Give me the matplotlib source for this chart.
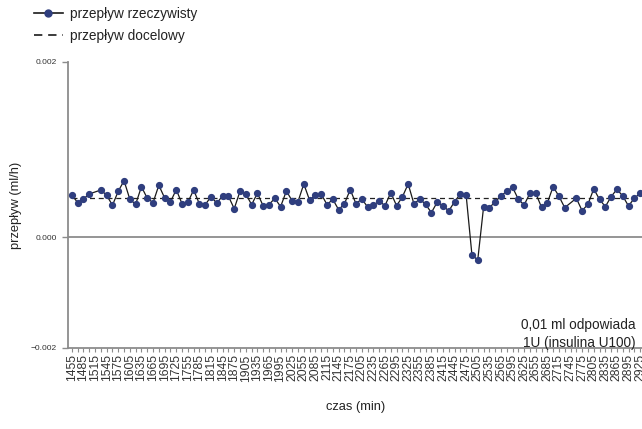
import numpy as np
import matplotlib
matplotlib.use("Agg")
import matplotlib.pyplot as plt
from matplotlib.lines import Line2D
from matplotlib.ticker import FixedLocator

plt.rcParams['font.family'] = ['Liberation Sans', 'DejaVu Sans']

# time axis (min), one reading every 15 min
czas = np.arange(1455, 2926, 15)

# measured flow (ml/h); NaN = no reading
przeplyw = [
    0.000484, 0.000397, 0.000439, 0.000496, np.nan, 0.000541, 0.000481, 0.000367,
    0.000527, 0.000647, 0.000435, 0.000378, 0.000579, 0.000447, 0.000397, 0.000595,
    0.000450, 0.000405, 0.000545, 0.000385, 0.000401, 0.000541, 0.000382, 0.000374,
    0.000465, 0.000390, 0.000476, 0.000470, 0.000328, 0.000527, 0.000496, 0.000374,
    0.000504, 0.000359, 0.000374, 0.000447, 0.000351, 0.000530, 0.000416, 0.000408,
    0.000610, 0.000424, 0.000481, 0.000496, 0.000374, 0.000435, 0.000317, 0.000382,
    0.000545, 0.000385, 0.000439, 0.000348, 0.000367, 0.000416, 0.000362, 0.000511,
    0.000362, 0.000462, 0.000610, 0.000382, 0.000439, 0.000378, 0.000283, 0.000401,
    0.000362, 0.000302, 0.000408, 0.000496, 0.000481, -0.000317, -0.000407, 0.000344,
    0.000340, 0.000405, 0.000473, 0.000527, 0.000572, 0.000435, 0.000370, 0.000504,
    0.000504, 0.000344, 0.000393, 0.000579, 0.000470, 0.000340, np.nan, 0.000447,
    0.000305, 0.000378, 0.000553, 0.000435, 0.000351, 0.000465, 0.000549, 0.000473,
    0.000359, 0.000447, 0.000504,
]

# target flow (ml/h)
przeplyw_docelowy = 0.00045

y_ticks = [-0.002, 0.0, 0.002]
y_tick_labels = ["\u22120.002", "0.000", "0.002"]
x_tick_labels = [str(v) for v in range(1455, 2926, 30)]

# negative half of the value axis is drawn compressed
K_NEG = 0.63


def fwd(y):
    y = np.asarray(y, dtype=float)
    return np.where(y < 0, y * K_NEG, y)


def inv(y):
    y = np.asarray(y, dtype=float)
    return np.where(y < 0, y / K_NEG, y)


W, H = 642, 429
fig = plt.figure(figsize=(W / 100, H / 100), dpi=100)
ax_l, ax_r, ax_t, ax_b = 68, 643, 62, 348
ax = fig.add_axes([ax_l / W, 1 - ax_b / H, (ax_r - ax_l) / W, (ax_b - ax_t) / H])

ax.set_yscale('function', functions=(fwd, inv))
ax.set_ylim(-0.002, 0.002)
ax.set_xlim(1445, 2932.5)

navy = '#2f3e7e'
grey = '#8c8c8c'
txt = '#222222'

y = np.array(przeplyw, dtype=float)
ok = ~np.isnan(y)
ax.plot(czas[ok], y[ok], color='#1a1a1a', lw=0.9, marker='o',
        markersize=4.2, markerfacecolor=navy, markeredgecolor=navy, zorder=3)
ax.plot([czas[0], czas[-1]], [przeplyw_docelowy] * 2, color='#222222',
        lw=0.9, linestyle=(0, (4, 3)), zorder=2)
ax.axhline(0, color=grey, lw=1.3, zorder=1)

for side in ('top', 'right'):
    ax.spines[side].set_visible(False)
for side in ('left', 'bottom'):
    ax.spines[side].set_color(grey)
    ax.spines[side].set_linewidth(1.3)

ax.yaxis.set_major_locator(FixedLocator(y_ticks))
ax.set_yticklabels(y_tick_labels)
ax.yaxis.set_minor_locator(FixedLocator([]))
ax.tick_params(axis='y', length=4, width=1, color=grey, labelsize=6, pad=4,
               labelcolor='#333333')

ax.xaxis.set_major_locator(FixedLocator(list(range(1455, 2926, 30))))
ax.set_xticklabels(x_tick_labels)
ax.xaxis.set_minor_locator(FixedLocator(list(range(1470, 2926, 30))))
ax.tick_params(axis='x', which='major', length=3, width=0.8, color=grey,
               labelsize=8.7, labelrotation=90, pad=1.5, labelcolor='#333333')
ax.tick_params(axis='x', which='minor', length=3, width=0.8, color=grey)

ax.set_ylabel('przepływ (ml/h)', fontsize=9.3, labelpad=6, color=txt)
ax.set_xlabel('czas (min)', fontsize=9.3, labelpad=14, color=txt)

fig.text(636 / W, 1 - 334 / H, '0,01 ml odpowiada\n1U (insulina U100)',
         ha='right', va='center', multialignment='right', fontsize=9.8,
         color=txt, linespacing=1.4)

legend_handles = [
    Line2D([], [], color='#1a1a1a', lw=1.2, marker='o', markersize=5,
           markerfacecolor=navy, markeredgecolor=navy),
    Line2D([], [], color='#1a1a1a', lw=1.2, linestyle=(0, (5, 3.5))),
]
fig.legend(handles=legend_handles,
           labels=['przepływ rzeczywisty', 'przepływ docelowy'],
           loc='upper left', bbox_to_anchor=(34 / W, 1 - 7 / H), frameon=False,
           fontsize=9.8, handlelength=2.1, handletextpad=0.55, labelspacing=0.6,
           borderpad=0, borderaxespad=0, labelcolor=txt)

fig.savefig('out.png', dpi=100)
